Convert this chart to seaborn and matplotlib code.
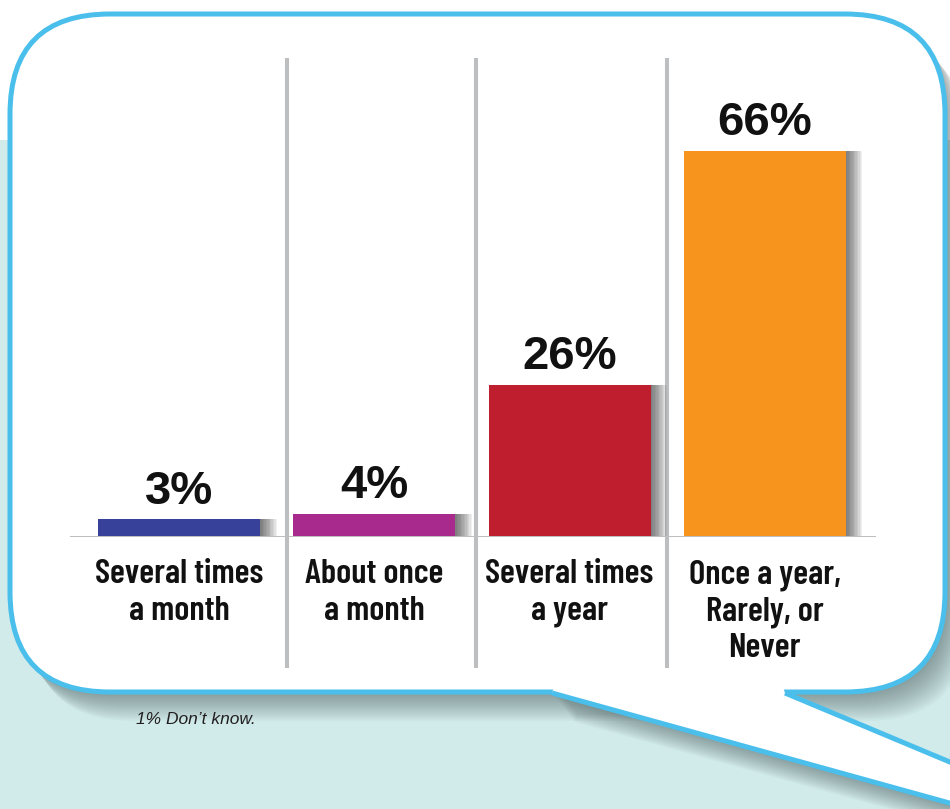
import matplotlib
matplotlib.use("Agg")
import matplotlib.pyplot as plt
import matplotlib.patheffects as pe
from matplotlib.patches import FancyBboxPatch, Polygon, Rectangle
import seaborn as sns
import pandas as pd

# ---- data ----
categories = ["Several times\na month", "About once\na month", "Several times\na year",
              "Once a year,\nRarely, or\nNever"]
values = [3, 4, 26, 66]
value_labels = ["3%", "4%", "26%", "66%"]
bar_colors = ["#38419a", "#a72a8c", "#be1e2d", "#f7941e"]
footnote = "1% Don\u2019t know."

df = pd.DataFrame({"cat": categories, "val": values})

sns.set_theme(style="white")
plt.rcParams["font.family"] = ["Liberation Sans", "DejaVu Sans"]

W, H = 950, 809
fig = plt.figure(figsize=(W / 100, H / 100), dpi=100)
fig.patch.set_facecolor("white")

# ---- background / speech bubble (pixel coordinates) ----
bg = fig.add_axes([0, 0, 1, 1])
bg.set_xlim(0, W)
bg.set_ylim(H, 0)
bg.axis("off")

teal = "#d1eaea"
blue = "#4bbfeb"
bg.add_patch(Rectangle((0, 140), W, H - 140, facecolor=teal, edgecolor="none", zorder=0))

def shadow_effects(n=16, alpha=0.03):
    return [pe.SimplePatchShadow(offset=(k * 1.0, -k * 1.3), shadow_rgbFace="#2a3a3a", alpha=alpha)
            for k in range(1, n + 1)]

bx0, by0, bx1, by1 = 10, 14, 945, 692
r = 100
bubble_kw = dict(boxstyle=f"round,pad=0,rounding_size={r}")
tail_pts = [(555, 684), (782, 684), (785, 693), (1000, 783), (1000, 817), (552, 693)]

# shadows
sh1 = FancyBboxPatch((bx0, by0), bx1 - bx0, by1 - by0, facecolor="white", edgecolor="none",
                     zorder=1, **bubble_kw)
sh1.set_path_effects(shadow_effects())
bg.add_patch(sh1)
sh2 = Polygon(tail_pts, closed=True, facecolor="white", edgecolor="none", zorder=1)
sh2.set_path_effects(shadow_effects())
bg.add_patch(sh2)

bubble = FancyBboxPatch((bx0, by0), bx1 - bx0, by1 - by0, facecolor="white", edgecolor=blue,
                        linewidth=3.6, zorder=2, **bubble_kw)
bg.add_patch(bubble)
bg.add_patch(Polygon(tail_pts, closed=True, facecolor="white", edgecolor="none", zorder=3))
bg.plot([552, 1000], [693, 817], color=blue, lw=3.6, zorder=4, solid_capstyle="butt")
bg.plot([785, 1000], [693, 783], color=blue, lw=3.6, zorder=4, solid_capstyle="butt")

bg.text(136, 719, footnote, fontsize=12.5, style="italic", color="#231f20",
        ha="left", va="center", zorder=5)

# ---- bar chart axes ----
px_per_unit = 5.85
base_y, top_y, left_x, right_x = 537, 58, 70, 876
ax = fig.add_axes([left_x / W, (H - base_y) / H, (right_x - left_x) / W, (base_y - top_y) / H])
ax.patch.set_alpha(0)

sns.barplot(data=df, x="cat", y="val", hue="cat", palette=bar_colors, legend=False,
            width=0.83, saturation=1, ax=ax, zorder=3)

ax.set_xlim(-0.56, 3.57)
ax.set_ylim(0, (base_y - top_y) / px_per_unit)

for p in ax.patches:
    p.set_edgecolor("none")
    p.set_path_effects([pe.SimplePatchShadow(offset=(k * 1.0, 0), shadow_rgbFace="#222222",
                                             alpha=0.065) for k in range(1, 13)] + [pe.Normal()])

sep_color = "#bcbec0"
bottom_ext = -(668 - base_y) / px_per_unit
for xs in [0.55, 1.52, 2.5]:
    ax.plot([xs, xs], [bottom_ext, ax.get_ylim()[1]], color=sep_color, lw=2.9,
            clip_on=False, zorder=1, solid_capstyle="butt")
ax.axhline(-0.25, color=sep_color, lw=3.6, zorder=4)

for cont, lab in zip(ax.containers, value_labels):
    ax.bar_label(cont, labels=[lab], padding=4, fontsize=34, fontweight="bold",
                 color="#111111", family=["Liberation Sans", "DejaVu Sans"])

ax.set_xlabel("")
ax.set_ylabel("")
ax.set_yticks([])
ax.tick_params(axis="x", length=0, pad=16)
for t in ax.get_xticklabels():
    t.set_fontfamily(["Barlow Condensed", "Roboto Condensed", "Archivo Narrow", "DejaVu Sans"])
    t.set_fontweight(600)
    t.set_fontsize(25)
    t.set_color("#111111")
    t.set_linespacing(1.22)
for s in ax.spines.values():
    s.set_visible(False)

fig.savefig("out.png", dpi=100, facecolor="white")
